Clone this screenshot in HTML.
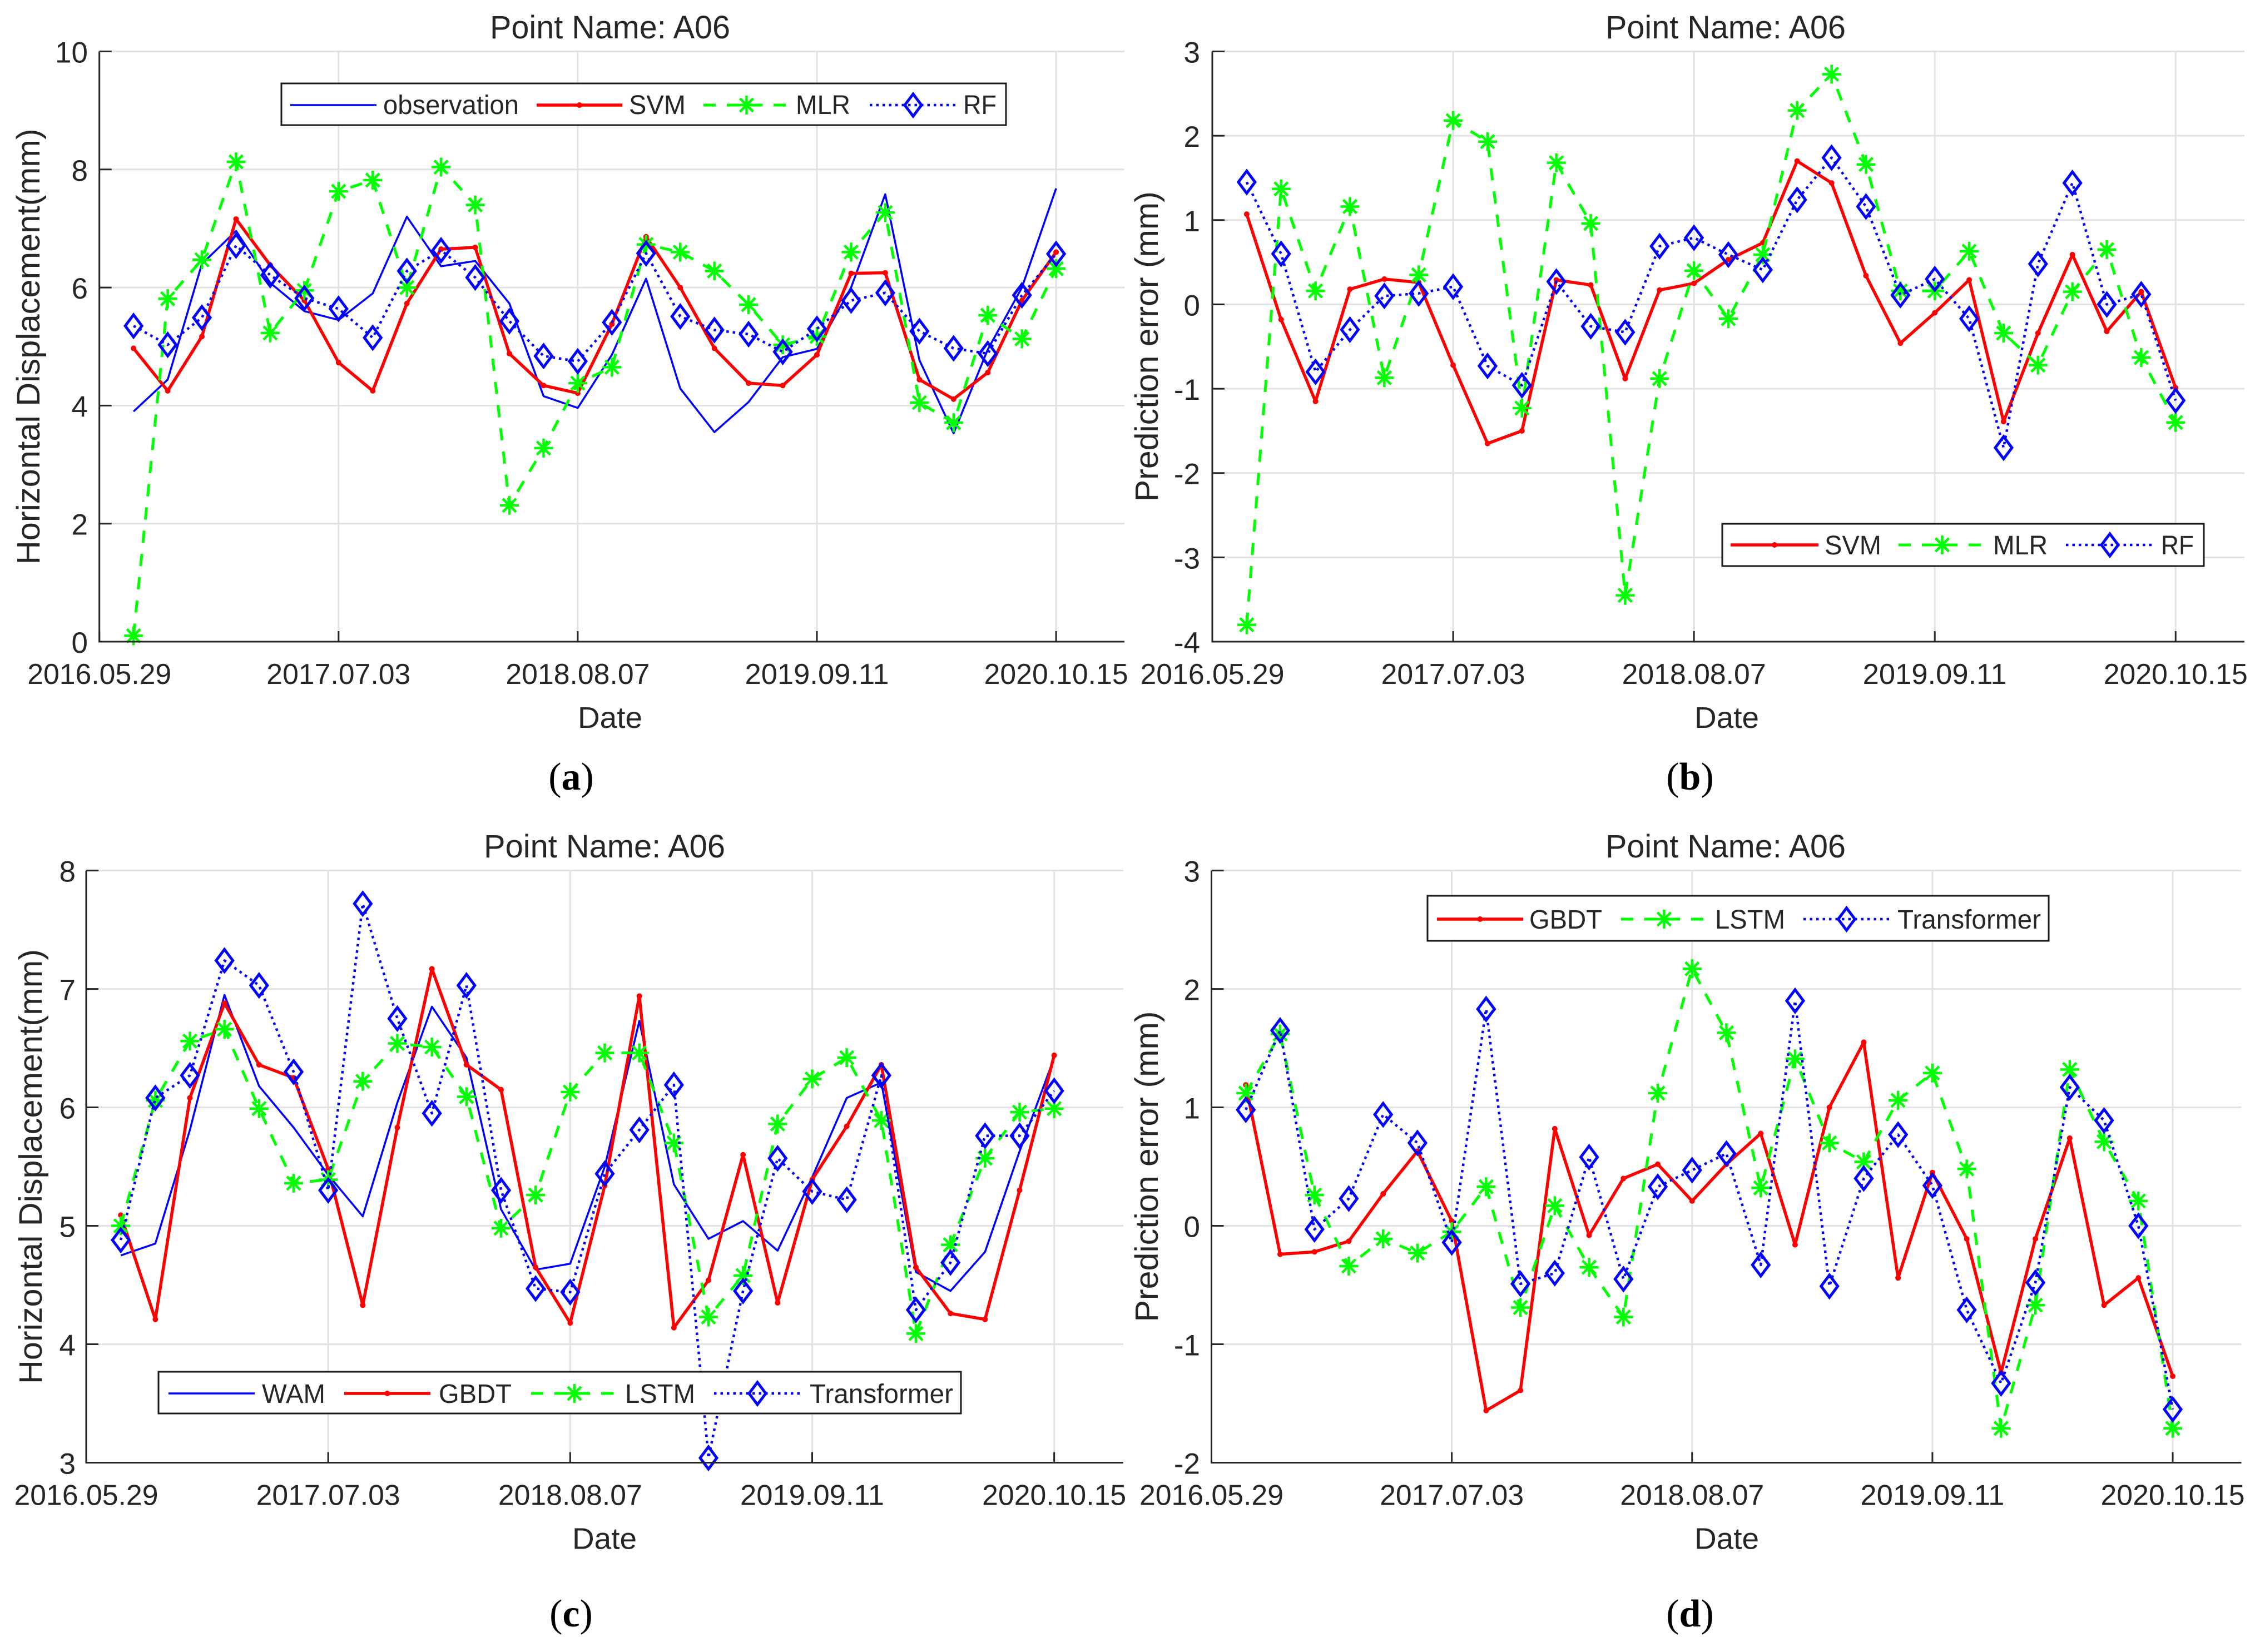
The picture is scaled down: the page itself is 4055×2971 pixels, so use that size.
<!DOCTYPE html>
<html lang="en">
<head>
<meta charset="utf-8">
<title>Point A06 prediction comparison</title>
<style>
html,body{margin:0;padding:0;background:#fff;}
svg{display:block;}
text{font-family:"Liberation Sans",Arial,sans-serif;fill:#262626;}
.cap{font-family:"Liberation Serif","Times New Roman",serif;fill:#000;}
</style>
</head>
<body>
<svg id="figure" xmlns="http://www.w3.org/2000/svg" width="4055" height="2971" viewBox="0 0 4055 2971">
<rect x="0" y="0" width="4055" height="2971" fill="#fff"/>
<text class="cap" x="1027" y="1420" text-anchor="middle" font-size="70">(<tspan font-weight="bold">a</tspan>)</text>
<text class="cap" x="3039" y="1420" text-anchor="middle" font-size="70">(<tspan font-weight="bold">b</tspan>)</text>
<text class="cap" x="1027" y="2925" text-anchor="middle" font-size="70">(<tspan font-weight="bold">c</tspan>)</text>
<text class="cap" x="3039" y="2925" text-anchor="middle" font-size="70">(<tspan font-weight="bold">d</tspan>)</text>
</svg>
<script>
// ---- shared x data ----
const sampleIndex = [1,2,3,4,5,6,7,8,9,10,11,12,13,14,15,16,17,18,19,20,21,22,23,24,25,26,27,28];
const dateTickIndex = [0,7,14,21,28];
const dateTickLabels = ["2016.05.29","2017.07.03","2018.08.07","2019.09.11","2020.10.15"];

// ---- panel (a) ----
const aYTicks = [0,2,4,6,8,10];
const aObservation = [3.90,4.44,6.40,6.96,6.08,5.60,5.45,5.90,7.20,6.36,6.45,5.73,4.16,3.96,4.86,6.15,4.29,3.55,4.06,4.82,4.96,6.00,7.58,4.77,3.53,4.95,6.00,7.68];
const aSVM = [4.97,4.25,5.17,7.16,6.38,5.78,4.73,4.25,5.73,6.65,6.68,4.88,4.34,4.21,5.38,6.86,6.00,4.97,4.38,4.34,4.86,6.24,6.25,4.44,4.11,4.56,5.78,6.60];
const aMLR = [0.10,5.81,6.47,8.13,5.23,5.95,7.63,7.82,6.00,8.04,7.40,2.31,3.28,4.38,4.65,6.73,6.60,6.28,5.71,5.03,5.17,6.60,7.27,4.05,3.71,5.53,5.13,6.32];
const aRF = [5.35,5.03,5.49,6.71,6.21,5.82,5.64,5.15,6.28,6.63,6.17,5.43,4.84,4.75,5.41,6.58,5.51,5.28,5.21,4.91,5.30,5.78,5.91,5.26,4.97,4.88,5.87,6.57];

// ---- panel (b) ----
const bYTicks = [-4,-3,-2,-1,0,1,2,3];
const bSVM = [1.07,-0.18,-1.15,0.18,0.30,0.26,-0.72,-1.65,-1.50,0.29,0.23,-0.88,0.17,0.25,0.53,0.73,1.70,1.44,0.34,-0.46,-0.10,0.29,-1.39,-0.34,0.59,-0.32,0.15,-0.99];
const bMLR = [-3.80,1.37,0.16,1.16,-0.87,0.35,2.18,1.93,-1.23,1.68,0.96,-3.45,-0.88,0.40,-0.17,0.59,2.30,2.73,1.66,0.16,0.16,0.63,-0.34,-0.72,0.15,0.65,-0.63,-1.40];
const bRF = [1.45,0.60,-0.80,-0.30,0.10,0.13,0.21,-0.73,-0.96,0.27,-0.26,-0.33,0.69,0.79,0.59,0.41,1.24,1.74,1.16,0.11,0.30,-0.17,-1.70,0.48,1.44,0.00,0.12,-1.14];

// ---- panel (c) ----
const cYTicks = [3,4,5,6,7,8];
const cWAM = [4.75,4.85,5.81,6.95,6.18,5.83,5.43,5.08,6.04,6.85,6.42,5.14,4.63,4.68,5.50,6.73,5.35,4.89,5.04,4.79,5.41,6.08,6.21,4.61,4.45,4.78,5.63,6.42];
const cGBDT = [5.09,4.21,6.08,6.88,6.36,6.25,5.48,4.33,5.83,7.17,6.36,6.15,4.65,4.18,5.34,6.94,4.14,4.54,5.60,4.35,5.39,5.84,6.36,4.65,4.26,4.21,5.30,6.44];
const cLSTM = [5.00,6.06,6.56,6.66,5.99,5.36,5.39,6.22,6.54,6.51,6.09,4.98,5.26,6.13,6.46,6.46,5.70,4.23,4.58,5.86,6.24,6.42,5.89,4.09,4.84,5.57,5.96,5.99];
const cTransformer = [4.88,6.08,6.27,7.24,7.03,6.30,5.30,7.72,6.75,5.95,7.03,5.30,4.47,4.44,5.44,5.81,6.19,3.04,4.45,5.57,5.29,5.22,6.27,4.29,4.69,5.76,5.76,6.14];

// ---- panel (d) ----
const dYTicks = [-2,-1,0,1,2,3];
const dGBDT = [1.19,-0.24,-0.22,-0.13,0.27,0.63,0.04,-1.56,-1.39,0.82,-0.08,0.40,0.52,0.21,0.52,0.78,-0.16,1.00,1.55,-0.44,0.45,-0.11,-1.24,-0.11,0.74,-0.67,-0.44,-1.27];
const dLSTM = [1.12,1.62,0.26,-0.34,-0.11,-0.23,-0.05,0.33,-0.69,0.17,-0.35,-0.77,1.12,2.17,1.63,0.32,1.41,0.70,0.54,1.06,1.29,0.48,-1.71,-0.67,1.32,0.71,0.21,-1.71];
const dTransformer = [0.98,1.65,-0.03,0.23,0.94,0.70,-0.14,1.83,-0.49,-0.40,0.58,-0.45,0.33,0.47,0.61,-0.33,1.90,-0.51,0.40,0.77,0.34,-0.71,-1.33,-0.48,1.17,0.89,0.00,-1.55];

// ---- drawing ----
const NS = "http://www.w3.org/2000/svg";
const root = document.getElementById("figure");
const INK = "#262626", GRID = "#e2e2e2";
const STYLES = {
  solid:  {color:"#0000ff", width:3.5, dash:null,  marker:null},
  red:    {color:"#ff0000", width:5.5, dash:null,  marker:"dot"},
  dashed: {color:"#00ff00", width:5,   dash:"22 20", marker:"star"},
  dotted: {color:"#0000ff", width:4.5, dash:"4.5 7", marker:"diamond"}
};

function node(parent, tag, attrs) {
  const el = document.createElementNS(NS, tag);
  for (const k in attrs) el.setAttribute(k, attrs[k]);
  parent.appendChild(el);
  return el;
}
function label(parent, name, str, x, y, size, anchor, len, rot) {
  const el = node(parent, "text", {x:x, y:y, "font-size":size, "text-anchor":anchor});
  
  
  if (len) { el.setAttribute("textLength", len); el.setAttribute("lengthAdjust", "spacingAndGlyphs"); }
  if (rot) el.setAttribute("transform", "rotate(-90 " + x + " " + y + ")");
  el.textContent = str;
  return el;
}
function marker(parent, kind, x, y, color, name) {
  const g = node(parent, "g", {});
  
  
  if (kind === "dot") {
    node(g, "circle", {cx:x, cy:y, r:5, fill:color});
  } else if (kind === "star") {
    const r = 17, q = 12;
    const segs = [[-r,0,r,0],[0,-r,0,r],[-q,-q,q,q],[-q,q,q,-q]];
    for (const s of segs) node(g, "line", {x1:x+s[0], y1:y+s[1], x2:x+s[2], y2:y+s[3], stroke:color, "stroke-width":4.5});
  } else if (kind === "diamond") {
    node(g, "polygon", {points:(x)+","+(y-20)+" "+(x+15)+","+y+" "+x+","+(y+20)+" "+(x-15)+","+y, fill:"none", stroke:color, "stroke-width":5});
  }
}
function drawPanel(cfg) {
  const g = node(root, "g", {});
  
  
  const xScale = v => cfg.left + (v - 0) / 30 * (cfg.right - cfg.left);
  const yScale = v => cfg.bottom - (v - cfg.yMin) / (cfg.yMax - cfg.yMin) * (cfg.bottom - cfg.top);

  // grid
  for (const t of cfg.yTicks) {
    const gl = node(g, "line", {x1:cfg.left, x2:cfg.right, y1:yScale(t), y2:yScale(t), stroke:GRID, "stroke-width":3});
    
    
  }
  for (const t of dateTickIndex) {
    const gl = node(g, "line", {x1:xScale(t), x2:xScale(t), y1:cfg.top, y2:cfg.bottom, stroke:GRID, "stroke-width":3});
    
    
  }
  // series
  for (const s of cfg.series) {
    const st = STYLES[s.style];
    const pts = s.values.map((v, i) => xScale(sampleIndex[i]) + "," + yScale(v)).join(" ");
    const line = node(g, "polyline", {points:pts, fill:"none", stroke:st.color, "stroke-width":st.width, "stroke-linejoin":"round"});
    
    
    if (st.dash) line.setAttribute("stroke-dasharray", st.dash);
    if (st.marker) s.values.forEach((v, i) => marker(g, st.marker, xScale(sampleIndex[i]), yScale(v), st.color, 'point-' + s.name));
  }
  // axes
  const ax = node(g, "path", {d:"M"+cfg.left+" "+cfg.top+" V"+cfg.bottom+" H"+cfg.right, fill:"none", stroke:INK, "stroke-width":3});
  
  
  cfg.yTicks.forEach(t => {
    const tk = node(g, "line", {x1:cfg.left, x2:cfg.left+22, y1:yScale(t), y2:yScale(t), stroke:INK, "stroke-width":3});
    
    
    label(g, 'y-tick-label', String(t), cfg.tickX, yScale(t) + 20, 53, "end");
  });
  dateTickIndex.forEach((t, i) => {
    const tk = node(g, "line", {x1:xScale(t), x2:xScale(t), y1:cfg.bottom, y2:cfg.bottom-19, stroke:INK, "stroke-width":3});
    
    
    label(g, 'x-tick-label', dateTickLabels[i], xScale(t), cfg.bottom + 76, 52, "middle", 259);
  });
  // titles
  label(g, 'chart-title', "Point Name: A06", cfg.titleX, cfg.top - 23.5, 58, "middle", cfg.titleLen);
  label(g, 'x-axis-title', "Date", cfg.dateX, cfg.bottom + 155, 54, "middle", 116);
  label(g, 'y-axis-title', cfg.yLabel, cfg.yLabelX, (cfg.top + cfg.bottom) / 2, 58, "middle", cfg.yLabelLen, true);

  // legend
  const L = cfg.legend;
  const lg = node(g, "g", {});
  
  
  const box = node(lg, "rect", {x:L.x, y:L.y, width:L.w, height:L.h, fill:"#fff", stroke:"#1a1a1a", "stroke-width":3});
  
  
  for (const e of L.entries) {
    const st = STYLES[e.style];
    const ln = node(lg, "line", {x1:e.x1, x2:e.x2, y1:L.lineY, y2:L.lineY, stroke:st.color, "stroke-width":st.width});
    
    
    if (st.dash) ln.setAttribute("stroke-dasharray", st.dash);
    if (st.marker) marker(lg, st.marker, (e.x1 + e.x2) / 2, L.lineY, st.color, 'legend-marker-' + e.text);
    label(lg, 'legend-label-' + e.text, e.text, e.tx, L.base, 48, "start", e.tw);
  }
}

drawPanel({
  id:"a", left:178.7, right:2022, top:92.5, bottom:1154, yMin:0, yMax:10, yTicks:aYTicks,
  tickX:158, titleX:1097, titleLen:432, dateX:1097, yLabel:"Horizontal Displacement(mm)", yLabelX:71, yLabelLen:784,
  series:[
    {name:"observation", style:"solid", values:aObservation},
    {name:"svm", style:"red", values:aSVM},
    {name:"mlr", style:"dashed", values:aMLR},
    {name:"rf", style:"dotted", values:aRF}
  ],
  legend:{x:506,y:150,w:1303,h:75,lineY:189,base:205,entries:[
    {text:"observation",style:"solid",x1:522,x2:677,tx:689,tw:244},
    {text:"SVM",style:"red",x1:965,x2:1119,tx:1131,tw:102},
    {text:"MLR",style:"dashed",x1:1265,x2:1420,tx:1431,tw:98},
    {text:"RF",style:"dotted",x1:1564,x2:1720,tx:1732,tw:60}
  ]}
});
drawPanel({
  id:"b", left:2180, right:4036, top:92.5, bottom:1154, yMin:-4, yMax:3, yTicks:bYTicks,
  tickX:2158, titleX:3103, titleLen:432, dateX:3105, yLabel:"Prediction error (mm)", yLabelX:2082, yLabelLen:558,
  series:[
    {name:"svm", style:"red", values:bSVM},
    {name:"mlr", style:"dashed", values:bMLR},
    {name:"rf", style:"dotted", values:bRF}
  ],
  legend:{x:3097,y:942,w:866,h:76,lineY:980,base:997,entries:[
    {text:"SVM",style:"red",x1:3112,x2:3270,tx:3281,tw:102},
    {text:"MLR",style:"dashed",x1:3414,x2:3571,tx:3584,tw:98},
    {text:"RF",style:"dotted",x1:3715,x2:3873,tx:3886,tw:59}
  ]}
});
drawPanel({
  id:"c", left:155, right:2020, top:1565.6, bottom:2630.5, yMin:3, yMax:8, yTicks:cYTicks,
  tickX:136, titleX:1087, titleLen:434, dateX:1087, yLabel:"Horizontal Displacement(mm)", yLabelX:75, yLabelLen:782,
  series:[
    {name:"wam", style:"solid", values:cWAM},
    {name:"gbdt", style:"red", values:cGBDT},
    {name:"lstm", style:"dashed", values:cLSTM},
    {name:"transformer", style:"dotted", values:cTransformer}
  ],
  legend:{x:285,y:2467,w:1443,h:75,lineY:2506,base:2523,entries:[
    {text:"WAM",style:"solid",x1:303,x2:458,tx:471,tw:114},
    {text:"GBDT",style:"red",x1:619,x2:774,tx:789,tw:131},
    {text:"LSTM",style:"dashed",x1:955,x2:1111,tx:1124,tw:126},
    {text:"Transformer",style:"dotted",x1:1284,x2:1440,tx:1456,tw:258}
  ]}
});
drawPanel({
  id:"d", left:2178.5, right:4030.5, top:1565.6, bottom:2630.5, yMin:-2, yMax:3, yTicks:dYTicks,
  tickX:2158, titleX:3103, titleLen:432, dateX:3105, yLabel:"Prediction error (mm)", yLabelX:2082, yLabelLen:559,
  series:[
    {name:"gbdt", style:"red", values:dGBDT},
    {name:"lstm", style:"dashed", values:dLSTM},
    {name:"transformer", style:"dotted", values:dTransformer}
  ],
  legend:{x:2567,y:1611,w:1117,h:81,lineY:1653,base:1670,entries:[
    {text:"GBDT",style:"red",x1:2584,x2:2739,tx:2750,tw:131},
    {text:"LSTM",style:"dashed",x1:2915,x2:3070,tx:3084,tw:126},
    {text:"Transformer",style:"dotted",x1:3243,x2:3398,tx:3412,tw:258}
  ]}
});
</script>
</body>
</html>
